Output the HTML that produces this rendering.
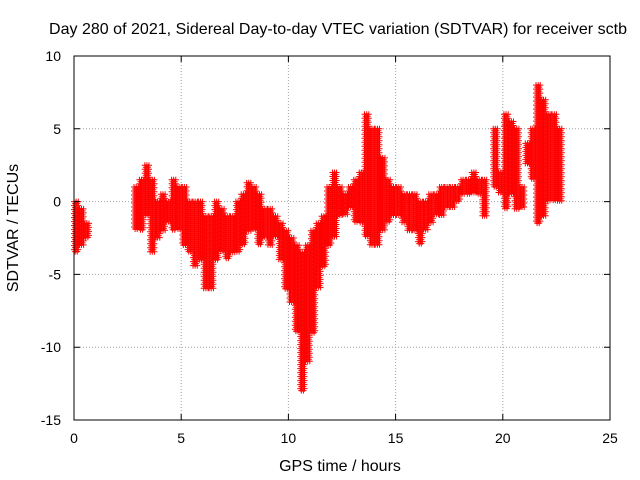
<!DOCTYPE html>
<html><head><meta charset="utf-8"><style>
body{margin:0;background:#fff}
svg{display:block;font-family:"Liberation Sans",sans-serif;font-size:14px}
.big{font-size:16px}
</style></head><body>
<svg id="chart" width="640" height="480" viewBox="0 0 640 480">
<rect width="640" height="480" fill="#fff"/>
<g id="grid"></g>
<g id="marks"></g>
<rect x="74" y="56" width="536" height="364" fill="none" stroke="#000" stroke-width="1"/>
<g id="ticks"></g>
<text class="big" x="338" y="34" text-anchor="middle" textLength="578">Day 280 of 2021, Sidereal Day-to-day VTEC variation (SDTVAR) for receiver sctb</text>
<text class="big" x="340" y="471" text-anchor="middle">GPS time / hours</text>
<text class="big" x="18" y="228" text-anchor="middle" transform="rotate(-90 18 228)">SDTVAR / TECUs</text>
</svg>
<script>
const xTicks=[0,5,10,15,20,25];
const yTicks=[10,5,0,-5,-10,-15];
// bin start time (hours), bin width 0.25, low and high values of the scatter band
const binT=[0,0.25,0.5,2.8,3.05,3.3,3.55,3.8,4.05,4.3,4.55,4.8,5.05,5.3,5.55,5.8,6.05,6.3,6.55,6.8,7.05,7.3,7.55,7.8,8.05,8.3,8.55,8.8,9.05,9.3,9.55,9.8,10.05,10.3,10.55,10.8,11.05,11.3,11.55,11.8,12.05,12.3,12.55,12.8,13.05,13.3,13.55,13.8,14.05,14.3,14.55,14.8,15.05,15.3,15.55,15.8,16.05,16.3,16.55,16.8,17.05,17.3,17.55,17.8,18.05,18.3,18.55,18.8,19.05,19.55,19.8,20.05,20.3,20.55,20.8,21.05,21.3,21.55,21.8,22.05,22.3,22.55];
const binLo=[-3.5,-3,-2.5,-2,-2,-1,-3.5,-2.5,-2,-1.5,-2,-2,-3,-3.5,-4.5,-4,-6,-6,-4,-3.5,-4,-3.5,-3.5,-3,-2,-2,-3,-2.5,-3,-2.5,-4,-6,-7,-9,-13,-11,-9,-6,-4.5,-3,-2.5,-1,-1,-0.5,-1.5,-1.5,-2.5,-3,-3,-2,-1.5,-1,-1,-1.5,-2,-2,-3,-2,-1.5,-1,-1,-0.5,-0.5,0,0.5,0.5,0.5,0.5,-1,1,0.5,-0.5,0.5,-0.5,-0.5,2.5,1.5,-1.5,-1,0,0,0];
const binHi=[0,-0.5,-1.5,1,1.5,2.5,1.5,0,0.5,0,1.5,1,1,0,0,0,-1,-1,0,-0.5,-1,-1,0,0.5,1.3,1,0.5,-0.5,-0.5,-1,-1.5,-2,-2.5,-3,-3.5,-3,-2,-1.5,-1,1,2,1,0.5,1,1.5,2,6,5,5,3,1.5,1,1,0.5,0.5,0.5,0,0,0.5,0.5,1,1,1,1,1.5,1.5,2,1.5,1.5,5,2,6,5.5,5,1,4,5,8,7,6,6,5];
const X=v=>74+v*536/25;
const Y=v=>201.6-v*364/25;
const NS="http://www.w3.org/2000/svg";
const grid=document.getElementById('grid'),ticks=document.getElementById('ticks'),marks=document.getElementById('marks');
xTicks.forEach(t=>{
 const x=X(t);
 if(t>0&&t<25){const l=document.createElementNS(NS,'line');
 
 
 l.setAttribute('x1',x);l.setAttribute('x2',x);l.setAttribute('y1',56);l.setAttribute('y2',420);
 l.setAttribute('stroke','#a0a0a0');l.setAttribute('stroke-dasharray','1,2');grid.appendChild(l);}
 const tk=document.createElementNS(NS,'path');
 
 
 tk.setAttribute('d',`M${x} 420v-6M${x} 56v6`);tk.setAttribute('stroke','#000');ticks.appendChild(tk);
 const tx=document.createElementNS(NS,'text');
 
 
 tx.setAttribute('x',x);tx.setAttribute('y',443);tx.setAttribute('text-anchor','middle');tx.textContent=t;ticks.appendChild(tx);
});
yTicks.forEach(t=>{
 const y=Y(t);
 if(t<10&&t>-15){const l=document.createElementNS(NS,'line');
 
 
 l.setAttribute('x1',74);l.setAttribute('x2',610);l.setAttribute('y1',y);l.setAttribute('y2',y);
 l.setAttribute('stroke','#a0a0a0');l.setAttribute('stroke-dasharray','1,2');grid.appendChild(l);}
 const tk=document.createElementNS(NS,'path');
 
 
 tk.setAttribute('d',`M74 ${y}h6M610 ${y}h-6`);tk.setAttribute('stroke','#000');ticks.appendChild(tk);
 const tx=document.createElementNS(NS,'text');
 
 
 tx.setAttribute('x',61);tx.setAttribute('y',y+5);tx.setAttribute('text-anchor','end');tx.textContent=t;ticks.appendChild(tx);
});
let d='';
binT.forEach((t,i)=>{
 const cols=5;
 for(let c=0;c<cols;c++){
  const x=X(t+0.25*c/cols);
  const yTop=Y(binHi[i]),yBot=Y(binLo[i]);
  const off=(c%2)*2;
  for(let y=yTop+off;y<=yBot+0.1;y+=4){d+=`M${(x-3).toFixed(1)} ${y.toFixed(1)}h6M${x.toFixed(1)} ${(y-3).toFixed(1)}v6`;}
 }
});
const p=document.createElementNS(NS,'path');


p.setAttribute('d',d);p.setAttribute('stroke','#ff0000');p.setAttribute('stroke-width','1');p.setAttribute('fill','none');
marks.appendChild(p);
</script>
</body></html>
